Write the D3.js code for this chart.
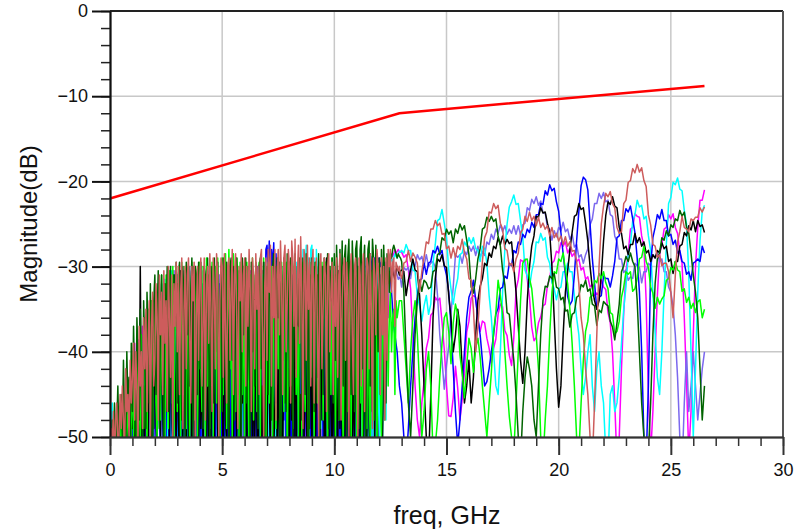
<!DOCTYPE html>
<html>
<head>
<meta charset="utf-8">
<title>magnitude</title>
<script src="https://cdn.jsdelivr.net/npm/d3@7"></script>
<style>
body { margin: 0; background: #fff; }
text { font-family: "Liberation Sans", Arial, sans-serif; }
</style>
</head>
<body>
<script>
// each trace is read in two parts:
//   *Lo : 0 .. 12.95 GHz, every 0.05 GHz (10 per row = 0.5 GHz)
//   *Hi : 13.0 .. 26.5 GHz, every 0.1 GHz (10 per row = 1 GHz)
var loStep = 0.05;
var hiStart = 13, hiStep = 0.1;
var xTicks = [0, 5, 10, 15, 20, 25, 30];
var yTicks = [0, -10, -20, -30, -40, -50];

// limit line
var limitFreq = [0, 12.9, 26.5];
var limitDb = [-22, -12, -8.8];

var magentaLo = [
 -54,-53,-55,-52,-54,-53,-51,-54,-52,-50,
 -53,-49,-52,-47,-51,-45,-53,-48,-44,-50,
 -42,-49,-39,-46,-51,-38.6,-47,-40,-52,-37,
 -45,-36,-50,-41,-35,-48,-52,-34,-43,-50,
 -33,-47,-52,-32,-44,-50,-33,-46,-53,-31.5,
 -48,-31,-42,-53,-32,-49,-51,-30.5,-45,-52,
 -31,-50,-53,-32,-47,-52,-30.5,-51,-44,-33,
 -53,-30.5,-49,-51,-31,-54,-46,-32,-52,-50,
 -31,-52,-54,-30.5,-48,-53,-33,-50,-54,-31,
 -47,-53,-30.5,-51,-54,-32,-49,-52,-31,-54,
 -50,-31,-53,-47,-30.5,-52,-54,-33,-48,-53,
 -31,-54,-50,-30.5,-52,-47,-32,-54,-51,-31,
 -53,-48,-31,-52,-54,-30.5,-50,-53,-33,-47,
 -32,-54,-51,-31,-49,-53,-30.5,-52,-54,-33,
 -50,-31,-53,-48,-32,-54,-51,-30.5,-52,-47,
 -31,-53,-50,-33,-54,-48,-31,-52,-54,-32,
 -52,-30.5,-49,-54,-34,-51,-53,-31,-50,-54,
 -33,-53,-48,-31,-54,-52,-36,-50,-54,-34,
 -49,-54,-38,-52,-53,-40,-50,-54,-36,-52,
 -54,-42,-51,-53,-38,-50,-54,-41,-52,-53,
 -37,-53,-50,-34,-54,-48,-33,-52,-54,-36,
 -51,-30,-49,-53,-32,-54,-47,-31,-52,-53,
 -32,-52,-54,-31,-49,-53,-30.5,-50,-54,-31,
 -48,-53,-30.5,-51,-54,-32,-47,-52,-31,-50,
 -42,-31,-47,-38,-30,-40,-33,-29.5,-36,-30,
 -29,-28.5,-28.8,-28.5,-28,-28.5,-28.2,-28,-28.3,-28.2
];
var magentaHi = [
 -28.3,-28.9,-28.6,-30.4,-32.6,-38,-44,-48,-50,-46,
 -43.5,-39.6,-38.4,-35.7,-35.4,-33.6,-34,-33.7,-36.5,-39.7,
 -44,-47.5,-47.6,-45.4,-41.7,-44.3,-48,-45.6,-42.4,-37.7,
 -36.4,-33.7,-33.4,-33.6,-36.3,-37.6,-36.4,-36.6,-38.4,-39.6,
 -41.3,-39.6,-38.5,-35.6,-34.4,-34.7,-37.5,-38.1,-40.4,-41.6,
 -38.4,-32.7,-31.5,-29.2,-29.4,-29.1,-31.5,-33.6,-37.1,-38.7,
 -38.3,-36.6,-35.9,-34.6,-34.4,-32.2,-31.4,-29.6,-29.3,-28.2,
 -28.4,-27.2,-27.6,-27.1,-28.4,-27.9,-28.8,-28.4,-29.4,-29.1,
 -30.4,-30.1,-31.5,-31.2,-32.4,-32.1,-33.4,-33.1,-33.4,-31.6,
 -32.4,-32.7,-35.4,-36.6,-40,-46,-53,-50,-42,-35.4,
 -30.6,-28.4,-25.6,-25.4,-23.8,-24.1,-24.2,-26.4,-27.6,-34,
 -45,-52,-47,-40,-33.4,-28.6,-27.4,-25.6,-25.4,-23.9,
 -24.4,-23.8,-25.4,-26.1,-28.4,-29.6,-36,-43.7,-52,-47,
 -38,-30,-25.4,-22.2,-22.2,-21
];

var purpleLo = [
 -55,-53,-54,-52,-55,-51,-54,-53,-52,-55,
 -52,-54,-50,-53,-48,-52,-54,-47,-51,-53,
 -46,-52,-44,-50,-53,-42,-49,-52,-41,-48,
 -53,-39,-47,-51,-37,-50,-53,-36,-45,-52,
 -34,-49,-53,-33,-46,-51,-32,-48,-53,-31.5,
 -50,-32,-44,-53,-31,-49,-52,-30.5,-47,-54,
 -31,-51,-54,-32,-48,-53,-31,-50,-52,-33,
 -53,-30,-48,-52,-30.5,-54,-47,-31,-51,-53,
 -31,-52,-54,-32,-49,-53,-30.5,-50,-54,-32,
 -48,-53,-31,-51,-54,-33,-47,-52,-31,-53,
 -51,-32,-53,-49,-31,-54,-50,-33,-52,-54,
 -31,-54,-50,-32,-53,-47,-31,-52,-54,-34,
 -52,-33,-49,-54,-31,-51,-53,-32,-48,-54,
 -34,-53,-50,-32,-54,-49,-33,-52,-54,-35,
 -51,-31,-54,-52,-33,-50,-53,-34,-49,-54,
 -36,-53,-51,-35,-54,-48,-37,-52,-54,-38,
 -54,-40,-51,-53,-38,-54,-49,-41,-53,-54,
 -43,-54,-50,-39,-53,-54,-42,-51,-54,-40,
 -54,-37,-52,-54,-44,-50,-53,-38,-54,-51,
 -41,-54,-49,-36,-53,-54,-40,-51,-54,-35,
 -53,-33,-51,-54,-36,-49,-53,-32,-52,-54,
 -34,-52,-54,-31,-50,-53,-33,-51,-54,-31,
 -51,-54,-32,-49,-53,-30.5,-52,-54,-33,-48,
 -30.5,-53,-51,-31,-54,-46,-30,-52,-44,-31,
 -48,-32,-45,-30,-41,-31,-37,-29.5,-33,-30,
 -31,-30.5,-30,-30.5,-31,-30.5,-31,-31.5,-31.2,-31.5
];
var purpleHi = [
 -32.4,-30.1,-30.4,-30.1,-31.4,-29.6,-29.9,-28.6,-29.2,-28.8,
 -29.9,-28.6,-30,-29.6,-29.4,-30.1,-33.4,-38,-41,-44.4,
 -41.6,-39.4,-35.6,-32.4,-28.6,-28.9,-28.6,-29.6,-28.2,-28.6,
 -27.6,-28.2,-27.6,-28.7,-27.6,-28.9,-28.2,-28.7,-27.1,-27.4,
 -26.2,-26.8,-25.6,-26.1,-25.1,-25.9,-25.2,-26.2,-25.6,-26.1,
 -25.2,-26.2,-25.2,-26.3,-25.1,-24.9,-23.1,-23.4,-22.1,-22.6,
 -21.8,-22.8,-22.3,-23.7,-23.7,-25.4,-25.6,-26.9,-25.8,-26.5,
 -25.4,-25.8,-24.8,-25.9,-25.6,-26.8,-26.2,-27.7,-27.4,-28.9,
 -28.6,-29.6,-28.6,-27.9,-25.1,-24.4,-22.6,-22.6,-21.4,-22,
 -21.3,-22.4,-22.2,-23.9,-24.1,-26.4,-27.1,-29.1,-29.1,-30.7,
 -30.4,-31.6,-31.2,-31.4,-29.6,-29.9,-30.1,-31.9,-30.6,-30.6,
 -29.6,-29.9,-28.6,-29,-28.3,-29.4,-29.1,-30.6,-30.6,-32.4,
 -33,-34.7,-38,-43,-50,-54,-46,-40,-47,-44,
 -40,-44,-48,-45,-42,-40
];

var cyanLo = [
 -47,-49,-46,-51,-48,-50,-47,-53,-49,-46,
 -51,-48,-45,-52,-47,-44,-50,-53,-43,-49,
 -46,-52,-41,-48,-50,-40,-47,-53,-39,-45,
 -51,-37,-44,-52,-36,-49,-42,-35,-53,-40,
 -34,-48,-52,-33,-45,-50,-32,-47,-53,-31.5,
 -44,-52,-31,-49,-53,-30.5,-46,-51,-31,-50,
 -53,-31,-48,-44,-30.5,-52,-50,-31,-47,-53,
 -30,-51,-53,-32,-46,-30.5,-52,-49,-31,-54,
 -48,-30,-52,-53,-31,-47,-54,-30.5,-50,-45,
 -31,-53,-49,-30,-52,-46,-31,-54,-50,-30.5,
 -52,-47,-31,-53,-50,-30,-48,-54,-31,-51,
 -30.5,-52,-54,-31,-49,-53,-30,-50,-47,-31,
 -53,-30,-51,-48,-31,-54,-50,-30.5,-52,-46,
 -31,-53,-49,-30,-51,-54,-31,-47,-53,-30.5,
 -50,-31,-54,-52,-30,-48,-53,-31,-51,-46,
 -30.5,-53,-50,-31,-54,-47,-30,-52,-49,-31,
 -53,-30,-48,-54,-31,-51,-29.5,-53,-50,-30,
 -29,-48,-28,-52,-30,-27.5,-47,-29,-53,-28,
 -27.5,-50,-29,-45,-28,-31,-52,-29.5,-49,-30,
 -52,-31,-48,-54,-30,-50,-53,-31,-47,-30.5,
 -53,-30,-51,-48,-31,-54,-49,-30,-52,-31,
 -47,-54,-30.5,-50,-53,-31,-46,-52,-30,-54,
 -50,-30,-53,-47,-29,-51,-54,-30,-49,-31,
 -53,-30.5,-48,-52,-29.5,-50,-54,-31,-47,-30,
 -52,-46,-31,-50,-40,-30.5,-48,-36,-30,-33,
 -29.5,-29,-29.5,-29,-28.5,-28.8,-29,-28.5,-28.2,-28.3
];
var cyanHi = [
 -28.1,-28.4,-27.4,-28.1,-28.1,-30.4,-30.6,-33.4,-34.6,-36.4,
 -34.6,-33.4,-35.6,-34.4,-29.6,-27.4,-24.6,-24.4,-23.3,-24.9,
 -26.6,-30.4,-32.6,-34.4,-32.6,-31.4,-28.6,-28.4,-27.1,-27.6,
 -26.6,-27.3,-26.6,-27.9,-28.1,-29.4,-27.6,-27.9,-29.6,-33.4,
 -36,-40,-44,-45,-40,-33,-28,-25,-23,-22.4,
 -21.6,-22.7,-22.6,-24.6,-26.6,-30.4,-31.1,-32.4,-30.6,-29.4,
 -27.1,-27.2,-26.1,-26.9,-26.6,-28.9,-29.6,-31.9,-32.6,-33.9,
 -32.6,-32.4,-30.6,-30.6,-29.6,-30.6,-30.6,-33.4,-36,-38,
 -42,-45,-43,-40,-38,-44,-47,-42,-40,-44,
 -46,-52,-53,-45,-44,-47,-46,-43,-39,-35,
 -32.4,-28.6,-27.4,-24.6,-23.9,-22.2,-23,-22.8,-24.4,-24.1,
 -26.4,-28.1,-33,-37.8,-43,-45,-40,-33,-27.4,-22.6,
 -21.9,-20.1,-20.4,-19.6,-20.9,-21.1,-23.4,-25,-31,-40,
 -50,-42,-33,-27,-23.5,-22.8
];

var blueLo = [
 -55,-53,-54,-52,-55,-53,-51,-54,-52,-55,
 -53,-51,-54,-50,-52,-55,-49,-53,-51,-54,
 -50,-47,-53,-46,-51,-48,-54,-44,-50,-52,
 -45,-51,-42,-49,-53,-40,-47,-52,-38,-50,
 -36,-49,-53,-34,-45,-51,-33,-47,-52,-35,
 -50,-32,-44,-53,-32.5,-48,-51,-31,-46,-53,
 -33,-51,-47,-31,-53,-40,-32,-52,-49,-31.5,
 -52,-34,-50,-53,-31,-46,-52,-33,-54,-31,
 -48,-53,-32,-50,-45,-31,-53,-38,-52,-32,
 -31,-52,-47,-33,-54,-31.5,-49,-53,-32,-46,
 -53,-31,-50,-42,-32,-54,-30.5,-48,-52,-33,
 -31,-50,-54,-32,-46,-53,-31,-51,-39,-31.5,
 -53,-32,-49,-52,-30.5,-45,-54,-31,-50,-33,
 -47,-53,-30,-51,-40,-31,-52,-29.5,-36,-28,
 -27.5,-31,-27,-34,-28,-30,-27.2,-36,-28.5,-33,
 -29,-45,-31,-52,-32,-48,-30.5,-53,-34,-50,
 -32,-53,-49,-31,-51,-54,-33,-47,-52,-31,
 -50,-54,-32,-52,-48,-31,-53,-50,-34,-54,
 -31,-51,-53,-33,-49,-54,-31,-52,-45,-32,
 -53,-31,-50,-54,-32,-47,-52,-30.5,-54,-49,
 -31,-52,-46,-53,-30.5,-50,-54,-33,-48,-31,
 -53,-31,-49,-52,-30,-45,-54,-32,-50,-29.5,
 -48,-30,-52,-36,-29.5,-44,-50,-29,-40,-30,
 -29,-35,-28.5,-31,-28.8,-33,-29,-30,-28.5,-29.5,
 -29,-30,-29.5,-30.5,-30,-29.5,-31,-30,-30.5,-31,
 -31.5,-33,-35,-37,-38,-39,-40,-42,-44,-45
];
var blueHi = [
 -46,-50,-53,-49,-44,-40,-36,-33.5,-31.6,-31.4,
 -29.6,-30.9,-29.6,-29.4,-28.1,-28.4,-27.6,-28.6,-28.1,-29.9,
 -31,-33,-37,-42,-47,-51,-48,-44,-40,-36,
 -33.6,-32.9,-31.6,-33.9,-36,-38,-41,-44,-43.5,-42,
 -40,-38,-35.6,-34.9,-32.6,-32.4,-31.1,-31.4,-29.6,-29.9,
 -28.1,-28.4,-27.1,-27.4,-26.2,-26.6,-25.6,-26,-24.8,-25.4,
 -23.9,-23.9,-22.6,-22.7,-21.1,-21.6,-20.4,-21.1,-20.8,-22.4,
 -23.5,-26,-28.5,-31,-33.5,-34.5,-34,-31,-27,-23.5,
 -20.5,-19.5,-19.8,-21,-25,-29,-32,-35,-33.6,-33.4,
 -31.1,-31.4,-31.4,-32.4,-31.1,-29.4,-26.6,-26.4,-24.6,-24.6,
 -23.2,-23.6,-22.9,-24.4,-26,-29,-33,-40,-50,-53,
 -44,-30,-26.6,-25.4,-23.9,-24.4,-23.3,-24.6,-24.6,-26.4,
 -26.2,-27.4,-26.9,-28.4,-28.1,-29.4,-29.6,-30.9,-30.6,-31.6,
 -29.6,-29.4,-29.1,-29.4,-27.6,-28.4
];

var blackLo = [
 -54,-52,-53,-51,-54,-50,-52,-53,-49,-51,
 -50,-53,-47,-51,-49,-52,-46,-50,-53,-48,
 -49,-45,-52,-47,-50,-43,-51,-30,-48,-52,
 -44,-50,-40,-47,-53,-38,-45,-51,-36,-49,
 -35,-48,-52,-33,-41,-50,-34,-46,-53,-32,
 -47,-31,-39,-52,-33,-45,-50,-31,-43,-51,
 -32,-48,-53,-30.5,-40,-51,-33,-46,-52,-31,
 -50,-34,-45,-53,-30,-39,-52,-32,-47,-54,
 -31,-49,-40,-52,-30.5,-44,-53,-33,-51,-37,
 -52,-30,-46,-53,-34,-31,-50,-42,-54,-31,
 -45,-53,-30.5,-48,-51,-33,-52,-39,-30,-50,
 -53,-32,-43,-51,-31,-49,-54,-35,-46,-30.5,
 -51,-37,-53,-30,-47,-52,-33,-50,-41,-53,
 -31,-48,-54,-36,-30,-51,-44,-53,-32,-49,
 -52,-31,-45,-53,-30.5,-39,-51,-47,-30,-53,
 -38,-52,-31,-49,-54,-33,-46,-30.5,-51,-42,
 -53,-30,-48,-40,-52,-31,-54,-36,-30,-50,
 -45,-53,-32,-51,-30.5,-47,-53,-34,-49,-31,
 -52,-38,-30,-53,-44,-31,-51,-54,-33,-48,
 -30,-50,-53,-29,-42,-52,-31,-47,-54,-35,
 -51,-31,-46,-53,-30.5,-49,-38,-52,-31,-54,
 -33,-52,-30,-45,-53,-31,-50,-41,-54,-30.5,
 -48,-53,-32,-51,-30,-44,-54,-31,-50,-52,
 -31,-49,-53,-30.5,-47,-32,-52,-30,-45,-53,
 -54,-52,-55,-50,-41,-34,-31,-30.5,-31.5,-32,
 -31.5,-31,-30.5,-31,-31.5,-30.5,-30,-30.5,-31,-30.5
];
var blackHi = [
 -30.4,-30.6,-33.4,-31.6,-30.4,-29.1,-30.4,-30.6,-33.4,-38,
 -44,-50,-53,-45,-36,-31.4,-29.1,-29.4,-28.6,-29.9,
 -30.1,-33.4,-36,-40,-38,-35,-37,-42,-46,-44,
 -41,-46,-43,-38,-34,-32.3,-31.4,-29.6,-29.9,-28.4,
 -28.9,-27.6,-27.9,-26.6,-27.4,-26.4,-27.4,-26.8,-27.3,-27.1,
 -30,-33,-37,-41,-43.7,-40,-34,-30,-27.6,-26.4,
 -24.1,-24.2,-23.1,-23.7,-23.6,-24.9,-26,-30,-36,-42,
 -46.5,-44,-38,-33,-30.5,-28,-26,-24.1,-23.9,-22.6,
 -23.3,-23.1,-24.9,-27,-30,-32.5,-34,-35,-34,-31,
 -27,-24,-22.4,-22.7,-21.8,-22.9,-23.1,-25.4,-26.1,-27.9,
 -27.6,-28.6,-27.4,-27.4,-26.1,-27.2,-26.6,-27.6,-27.1,-28.4,
 -28.1,-29.4,-28.6,-29,-28.1,-28.4,-27.2,-27.9,-27.6,-29.4,
 -29.1,-30.8,-29.4,-29.4,-27.6,-27.4,-26,-26.4,-25.2,-25.7,
 -24.6,-25.9,-24.6,-25.3,-25.1,-26
];

var greenLo = [
 -53,-50,-52,-49,-51,-53,-48,-50,-52,-47,
 -51,-46,-49,-53,-45,-50,-47,-44,-52,-48,
 -43,-50,-41,-47,-52,-39,-45,-50,-38,-46,
 -49,-36,-43,-51,-35,-40,-47,-34,-52,-37,
 -33,-46,-50,-32,-39,-48,-31,-44,-36,-51,
 -31,-42,-49,-30.5,-37,-46,-30,-52,-34,-31,
 -47,-30,-39,-51,-29.5,-33,-45,-30,-49,-36,
 -30,-52,-34,-29.5,-43,-48,-30,-31,-50,-38,
 -29.5,-41,-47,-30,-35,-51,-29,-44,-31,-49,
 -37,-29.5,-50,-32,-30,-46,-29,-39,-53,-30,
 -29,-45,-31,-28.5,-49,-36,-28,-42,-30,-51,
 -28.5,-34,-47,-29,-31,-50,-29.5,-40,-45,-30,
 -50,-30,-29.5,-43,-52,-31,-37,-29,-48,-33,
 -30,-47,-36,-29.5,-51,-30,-41,-29,-44,-52,
 -31,-29.5,-46,-38,-30,-50,-29,-34,-49,-30,
 -42,-30,-51,-29.5,-36,-47,-30,-29.5,-53,-39,
 -29.5,-44,-31,-49,-30,-29,-45,-37,-51,-30,
 -31,-50,-29.5,-40,-47,-30,-33,-52,-29.5,-43,
 -30,-38,-51,-29.5,-31,-46,-30,-49,-35,-29.5,
 -48,-30,-29.5,-42,-53,-31,-30,-45,-29,-37,
 -29.5,-51,-30,-34,-48,-29,-31,-44,-52,-30,
 -30,-39,-47,-29.5,-31,-50,-30,-36,-45,-30.5,
 -50,-31,-30,-46,-33,-52,-31,-30.5,-43,-49,
 -31,-45,-50,-32,-30.5,-48,-38,-31,-52,-33,
 -31,-45,-50,-38,-33,-48,-35,-34,-44,-36,
 -33,-40,-36,-35,-45,-34,-36,-35,-34,-34
];
var greenHi = [
 -34,-38,-42,-46,-40,-36,-34,-38,-44,-50,
 -47,-42,-40,-44,-52,-51,-48,-43,-39,-36,
 -35.4,-37.6,-41.4,-36.6,-34.4,-35.6,-40.4,-42.6,-45.4,-41.6,
 -38.4,-39.6,-42.4,-39.6,-38.4,-40.6,-44,-47,-50,-46,
 -42.4,-37.6,-35.4,-31.6,-33.4,-35.6,-40,-44,-47.6,-50,
 -52,-46,-40,-34,-29.6,-29.2,-29.1,-31.4,-32.6,-35.4,
 -38,-42,-50,-53,-48,-44,-38,-33,-30.6,-30.8,
 -29.1,-29.4,-28.4,-30.4,-32,-35,-39,-44,-50,-52,
 -46,-41,-37.6,-36.4,-33.6,-33.4,-31.6,-31.9,-30.8,-31.4,
 -30.6,-31.9,-32.6,-35.4,-35.6,-37.9,-37.6,-36.4,-33.6,-32.4,
 -30.6,-30.9,-30.6,-32.9,-32.6,-31.4,-29.1,-28.9,-27.6,-29.4,
 -30.1,-32.4,-33.1,-34.9,-33.6,-34.4,-33.8,-33.4,-31.6,-31.4,
 -30.1,-30.4,-29.4,-30.4,-30.6,-32.9,-32.6,-34.2,-33.6,-34.9,
 -34.3,-35.4,-34.1,-33.9,-36,-35
];

var darkgreenLo = [
 -50,-53,-48,-51,-46,-52,-49,-44,-51,-47,
 -45,-50,-41,-48,-52,-40,-46,-43,-50,-39,
 -47,-37,-44,-50,-36,-41,-48,-35,-45,-52,
 -34,-40,-49,-33,-38,-46,-32,-43,-51,-34,
 -31,-45,-37,-30.5,-49,-35,-31,-42,-50,-32,
 -39,-30,-47,-33,-30,-44,-52,-31,-36,-29.5,
 -46,-31,-29.5,-40,-48,-30,-35,-51,-29.5,-38,
 -30,-44,-33,-29,-50,-37,-30,-31,-45,-29.5,
 -42,-29.5,-36,-49,-30,-31,-44,-29,-38,-52,
 -30,-33,-46,-29,-40,-31,-29.5,-50,-35,-30,
 -47,-29,-32,-43,-29.5,-37,-51,-30,-29,-41,
 -30,-48,-35,-29,-45,-30.5,-33,-50,-29,-38,
 -31,-29,-46,-36,-30,-52,-29.5,-40,-31,-44,
 -29.5,-34,-49,-30,-29,-42,-37,-29.5,-50,-31,
 -30,-45,-29,-33,-48,-30,-28.5,-39,-46,-29,
 -36,-29.5,-51,-30,-41,-29,-34,-47,-28.5,-31,
 -44,-29,-30,-50,-33,-28.5,-42,-30,-37,-29,
 -30,-48,-29,-35,-45,-28.5,-31,-52,-29.5,-40,
 -29,-37,-47,-29.5,-30,-43,-28.5,-50,-33,-30,
 -45,-29,-31,-39,-28.5,-49,-30,-34,-29,-46,
 -28.5,-41,-27.5,-33,-48,-28,-36,-27,-44,-29,
 -27.5,-50,-29,-26.8,-38,-45,-27,-31,-47,-28,
 -27,-35,-49,-28,-26.5,-42,-30,-27.5,-50,-33,
 -28,-27,-44,-37,-26.8,-29,-48,-27.5,-33,-40,
 -29,-45,-28,-36,-27.5,-32,-46,-28.5,-30,-33,
 -28.5,-29,-28,-27.5,-28,-28.5,-29,-28.5,-28.8,-29
];
var darkgreenHi = [
 -29.4,-33,-40,-46,-50,-44,-38,-34,-31.6,-32.9,
 -31.6,-31.9,-32.6,-32.4,-30.6,-30.4,-28.6,-28.4,-26.6,-26.9,
 -25.6,-26.2,-25.8,-27.2,-25.6,-26.1,-25,-25.7,-25.2,-26.9,
 -28.6,-32.4,-33.1,-31.4,-29.1,-27.9,-25.6,-25.4,-24.2,-24.7,
 -24.1,-24.7,-24.4,-26.4,-27.6,-30.4,-32.1,-35.4,-35.6,-38.4,
 -41,-45,-50,-53,-47,-43,-40.6,-42,-44,-48,
 -50,-44,-38,-34,-32.3,-32.4,-31.1,-31.4,-30.8,-32.4,
 -32.6,-33.9,-33.6,-35.2,-35.1,-37.1,-35.6,-35.4,-33.6,-33.4,
 -32.1,-32.4,-31.6,-32.9,-32.6,-34.4,-34.6,-36.9,-35.1,-35.4,
 -34.1,-34.4,-34.6,-36.4,-37.1,-38.6,-36.6,-34.4,-30.6,-29.9,
 -28.8,-29.4,-28.4,-29.4,-30,-34,-40,-46,-50,-53,
 -52,-46,-38,-32,-29.1,-28.4,-26.6,-26.9,-25.8,-26.4,
 -25.1,-25.4,-24.4,-24.6,-23.4,-24.1,-23.6,-25.4,-26.1,-28.4,
 -31,-33,-36,-42,-48,-44
];

var brownLo = [
 -52,-49,-51,-47,-53,-48,-46,-51,-50,-45,
 -49,-44,-48,-52,-42,-47,-45,-50,-41,-46,
 -43,-39,-48,-40,-45,-51,-37,-44,-40,-49,
 -36,-42,-35,-47,-39,-34,-50,-37,-33,-44,
 -41,-32,-36,-48,-31,-38,-33,-45,-30.5,-39,
 -34,-47,-30,-36,-43,-31,-50,-32,-37,-29.5,
 -40,-30,-45,-33,-29,-49,-35,-30,-42,-31,
 -29,-38,-46,-30,-34,-29.5,-51,-36,-30,-41,
 -31,-29,-44,-37,-29,-48,-32,-30,-39,-28.5,
 -35,-47,-29,-33,-42,-28.5,-31,-50,-34,-29,
 -30,-43,-28.5,-38,-46,-30,-29,-41,-33,-28,
 -45,-31,-28.5,-36,-49,-30,-34,-28.5,-40,-31,
 -29,-44,-30,-37,-28,-33,-47,-29,-31,-42,
 -28.5,-35,-30,-45,-29,-28,-39,-50,-32,-29,
 -41,-28,-33,-27.5,-44,-30,-36,-28,-48,-31,
 -28,-38,-27,-32,-45,-29,-27.5,-40,-34,-28,
 -30,-46,-27,-29,-37,-26.8,-43,-31,-27.5,-39,
 -26.5,-33,-49,-28,-30,-41,-27.5,-35,-29,-44,
 -30,-28,-46,-32,-29,-38,-50,-30,-28.5,-42,
 -35,-29,-31,-47,-30,-28.5,-40,-33,-29.5,-45,
 -30,-37,-29,-43,-31,-28.5,-48,-34,-30,-29,
 -41,-29.5,-33,-50,-31,-28.5,-38,-45,-30,-29,
 -36,-50,-29,-31,-44,-30,-28.5,-47,-33,-29,
 -30,-42,-28.5,-35,-49,-29,-31,-38,-28,-30,
 -33,-45,-29,-38,-30,-48,-29,-41,-28,-30,
 -28,-33,-29.5,-29,-37,-29.5,-30,-30.5,-30,-31
];
var brownHi = [
 -31.4,-29.6,-29.4,-28.1,-29.4,-28.4,-28.9,-29.6,-33,-30.6,
 -28.9,-27.1,-27.3,-25.6,-25.6,-24.6,-25.2,-24.9,-26.2,-26.1,
 -27.9,-27.6,-29,-27.8,-28.9,-27.6,-28,-26.8,-28.4,-29.1,
 -31.4,-31.6,-35,-40,-37,-33,-29.4,-26.6,-25.9,-23.6,
 -23.7,-22.6,-23.2,-22.8,-24.9,-25.6,-27.9,-28.1,-29.9,-29.6,
 -30.6,-29.1,-28.4,-26.1,-25.6,-24.1,-24.7,-23.6,-24.6,-24.1,
 -25.2,-24.2,-25.4,-24.9,-25.6,-25.2,-26.4,-25.4,-26.6,-26.1,
 -27,-26.4,-27.4,-26.5,-27.6,-27.1,-28.2,-28.1,-29.4,-32,
 -36,-38,-42,-45,-50,-53,-46,-38,-30,-25,
 -22.9,-21.4,-21.8,-21.2,-22.6,-23.1,-25.4,-26.1,-25.9,-22.6,
 -22.2,-20.1,-19.9,-18.5,-19,-18,-18.9,-18.4,-19.9,-20.6,
 -23.9,-25.1,-27.4,-27.6,-28.9,-28.6,-29.9,-29.6,-29.6,-30.6,
 -33,-36,-31,-27.1,-25.9,-24.1,-25.4,-25.6,-25.9,-24.4,
 -24.6,-24.2,-24.2,-23.1,-23.6,-23
];

// join the two parts of a trace into [freq, dB] points
function trace(lo, hi) {
  return lo.map((v, i) => [i * loStep, v])
           .concat(hi.map((v, i) => [hiStart + i * hiStep, v]));
}

var series = [
  { name: "magenta",   color: "#ff00ff", points: trace(magentaLo, magentaHi) },
  { name: "purple",    color: "#7b68ee", points: trace(purpleLo, purpleHi) },
  { name: "cyan",      color: "#00ffff", points: trace(cyanLo, cyanHi) },
  { name: "blue",      color: "#0000ff", points: trace(blueLo, blueHi) },
  { name: "black",     color: "#000000", points: trace(blackLo, blackHi) },
  { name: "green",     color: "#00ff00", points: trace(greenLo, greenHi) },
  { name: "darkgreen", color: "#006400", points: trace(darkgreenLo, darkgreenHi) },
  { name: "brown",     color: "#cd5c5c", points: trace(brownLo, brownHi) }
];

var w = 801, h = 531;
var plotL = 110, plotR = 783, plotT = 11, plotB = 437;

var svg = d3.select("body").append("svg")
    .attr("width", w)
    .attr("height", h)
    .style("display", "block");

var x = d3.scaleLinear().domain([0, 30]).range([plotL, plotR]);
var y = d3.scaleLinear().domain([-50, 0]).range([plotB, plotT]);

// grid
svg.append("g").selectAll("line")
   .data(xTicks.slice(1, -1))
   .enter().append("line")
   .attr("x1", d => x(d)).attr("x2", d => x(d))
   .attr("y1", plotT).attr("y2", plotB)
   .attr("stroke", "#c8c8c8").attr("stroke-width", 1.5);
svg.append("g").selectAll("line")
   .data(yTicks.slice(1, -1))
   .enter().append("line")
   .attr("x1", plotL).attr("x2", plotR)
   .attr("y1", d => y(d)).attr("y2", d => y(d))
   .attr("stroke", "#c8c8c8").attr("stroke-width", 1.5);

// traces
svg.append("clipPath").attr("id", "plotclip")
   .append("rect")
   .attr("x", plotL).attr("y", plotT)
   .attr("width", plotR - plotL).attr("height", plotB - plotT);

var line = d3.line()
    .x(d => x(d[0]))
    .y(d => y(d[1]));

svg.append("g").attr("clip-path", "url(#plotclip)")
   .selectAll("path")
   .data(series)
   .enter().append("path")
   .attr("d", d => line(d.points))
   .attr("fill", "none")
   .attr("stroke", d => d.color)
   .attr("stroke-width", 1.5)
   .attr("stroke-linejoin", "round");

// limit line
var limit = limitFreq.map((f, i) => [f, limitDb[i]]);
svg.append("path")
   .attr("d", line(limit))
   .attr("fill", "none")
   .attr("stroke", "#ff0000")
   .attr("stroke-width", 2.5);

// frame (top / right)
svg.append("line").attr("x1", plotL).attr("x2", plotR).attr("y1", plotT).attr("y2", plotT)
   .attr("stroke", "#222").attr("stroke-width", 2);
svg.append("line").attr("x1", plotR).attr("x2", plotR).attr("y1", plotT).attr("y2", plotB)
   .attr("stroke", "#555").attr("stroke-width", 2);

// axes: minor ticks first, then major with labels
svg.append("g").attr("transform", "translate(" + plotL + ",0)")
   .call(d3.axisLeft(y).tickValues(d3.range(-50, 1, 2)).tickSize(9).tickSizeOuter(0).tickFormat(""))
   .call(g => g.selectAll("line,path").attr("stroke", "#222").attr("stroke-width", 1.5));
svg.append("g").attr("transform", "translate(" + plotL + ",0)")
   .call(d3.axisLeft(y).tickValues(yTicks).tickSize(18).tickPadding(4).tickSizeOuter(0))
   .call(g => g.selectAll("line,path").attr("stroke", "#111").attr("stroke-width", 2))
   .call(g => g.selectAll("text").attr("font-size", 18).attr("fill", "#111")
               .style("font-family", "'Liberation Sans', Arial, sans-serif"));

svg.append("g").attr("transform", "translate(0," + plotB + ")")
   .call(d3.axisBottom(x).tickValues(d3.range(0, 31, 1)).tickSize(9).tickSizeOuter(0).tickFormat(""))
   .call(g => g.selectAll("line,path").attr("stroke", "#333").attr("stroke-width", 1.5));
svg.append("g").attr("transform", "translate(0," + plotB + ")")
   .call(d3.axisBottom(x).tickValues(xTicks).tickSize(18).tickPadding(8).tickSizeOuter(0))
   .call(g => g.selectAll("line,path").attr("stroke", "#333").attr("stroke-width", 2))
   .call(g => g.selectAll("text").attr("font-size", 18).attr("fill", "#111")
               .style("font-family", "'Liberation Sans', Arial, sans-serif"));

// titles
svg.append("text")
   .attr("x", 447).attr("y", 524)
   .attr("text-anchor", "middle")
   .attr("font-size", 25)
   .attr("fill", "#111")
   .text("freq, GHz");
svg.append("text")
   .attr("transform", "translate(37,224) rotate(-90)")
   .attr("text-anchor", "middle")
   .attr("font-size", 24)
   .attr("fill", "#111")
   .text("Magnitude(dB)");
</script>
</body>
</html>
